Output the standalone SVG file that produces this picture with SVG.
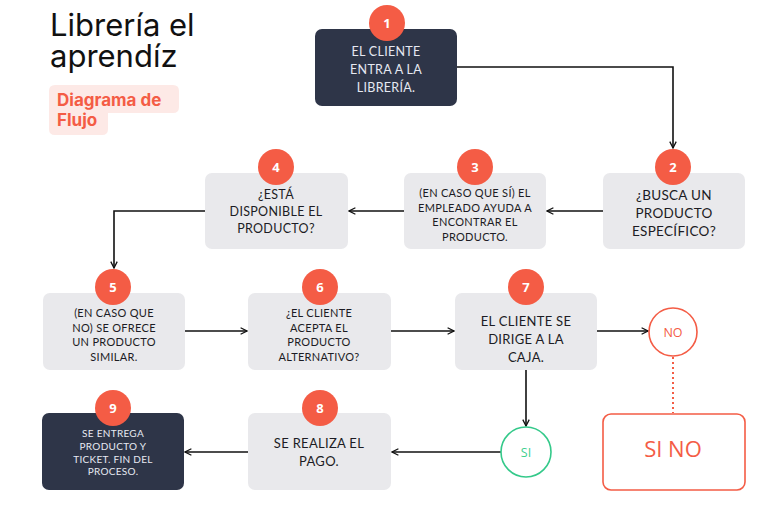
<svg xmlns="http://www.w3.org/2000/svg" width="780" height="522" viewBox="0 0 780 522">
<defs>
<marker id="arr" viewBox="0 0 10 10" refX="9" refY="5" markerWidth="8" markerHeight="8" markerUnits="userSpaceOnUse" orient="auto">
<path d="M1,1 L9,5 L1,9" fill="none" stroke="#111" stroke-width="1.6"/>
</marker>
<style>
.box{fill:#e9e9ec}
.dark{fill:#2e3548}
.badge{fill:#f45c45}
.bn{font-family:"Open Sans","Liberation Sans",sans-serif;font-weight:700;font-size:13px;fill:#fff;text-anchor:middle}
.t{font-family:"Lato","Open Sans","Liberation Sans",sans-serif;fill:#1c1c24;text-anchor:middle;letter-spacing:0.3px}
.tl{font-family:"Lato","Open Sans","Liberation Sans",sans-serif;fill:#e6e9f2;text-anchor:middle;letter-spacing:0.3px}
.c{fill:none;stroke:#111;stroke-width:1.6}
</style>
</defs>
<rect width="780" height="522" fill="#fff"/>
<g id="title">
<text x="50" y="36" font-family="Inter,'Liberation Sans',sans-serif" font-size="31" fill="#111">Librería el</text>
<text x="50" y="67" font-family="Inter,'Liberation Sans',sans-serif" font-size="31" fill="#111">aprendíz</text>
<path d="M55,85 H173 Q179,85 179,91 V107 Q179,113 173,113 H108 V129 Q108,135 102,135 H55 Q49,135 49,129 V91 Q49,85 55,85 Z" fill="#fde9e6"/>
<text x="57" y="106" font-family="Inter,'Liberation Sans',sans-serif" font-size="17" font-weight="700" fill="#f45c45">Diagrama de</text>
<text x="57" y="126" font-family="Inter,'Liberation Sans',sans-serif" font-size="17" font-weight="700" fill="#f45c45">Flujo</text>
</g>
<g id="connectors">
<path class="c" d="M457,67 H673 V148" marker-end="url(#arr)"/>
<path class="c" d="M603,211 H547" marker-end="url(#arr)"/>
<path class="c" d="M404,211 H349" marker-end="url(#arr)"/>
<path class="c" d="M205,211 H114 V268" marker-end="url(#arr)"/>
<path class="c" d="M185,331 H247" marker-end="url(#arr)"/>
<path class="c" d="M391,331 H454" marker-end="url(#arr)"/>
<path class="c" d="M597,331 H648" marker-end="url(#arr)"/>
<path class="c" d="M526,370 V426" marker-end="url(#arr)"/>
<path class="c" d="M501,452 H392" marker-end="url(#arr)"/>
<path class="c" d="M248,452 H185" marker-end="url(#arr)"/>
<path d="M673,357 V413" fill="none" stroke="#f45c45" stroke-width="2" stroke-dasharray="2,3"/>
</g>
<g id="n1">
<rect class="dark" x="315" y="29" width="142" height="77" rx="7"/>
<circle class="badge" cx="387" cy="23" r="18"/><text class="bn" x="387" y="28">1</text>
<text class="tl" font-size="12.5" x="386" y="56">EL CLIENTE</text>
<text class="tl" font-size="12.5" x="386" y="74">ENTRA A LA</text>
<text class="tl" font-size="12.5" x="386" y="92">LIBRERÍA.</text>
</g>
<g id="n2">
<rect class="box" x="603" y="173" width="142" height="76" rx="7"/>
<circle class="badge" cx="673" cy="167" r="18"/><text class="bn" x="673" y="172">2</text>
<text class="t" font-size="13.5" x="674" y="200">¿BUSCA UN</text>
<text class="t" font-size="13.5" x="674" y="218">PRODUCTO</text>
<text class="t" font-size="13.5" x="674" y="236">ESPECÍFICO?</text>
</g>
<g id="n3">
<rect class="box" x="404" y="173" width="142" height="76" rx="7"/>
<circle class="badge" cx="475" cy="167" r="18"/><text class="bn" x="475" y="172">3</text>
<text class="t" font-size="11" x="475" y="197">(EN CASO QUE SÍ) EL</text>
<text class="t" font-size="11" x="475" y="212">EMPLEADO AYUDA A</text>
<text class="t" font-size="11" x="475" y="226">ENCONTRAR EL</text>
<text class="t" font-size="11" x="475" y="241">PRODUCTO.</text>
</g>
<g id="n4">
<rect class="box" x="205" y="173" width="143" height="76" rx="7"/>
<circle class="badge" cx="276" cy="167" r="18"/><text class="bn" x="276" y="172">4</text>
<text class="t" font-size="12.5" x="276" y="199">¿ESTÁ</text>
<text class="t" font-size="12.5" x="276" y="216">DISPONIBLE EL</text>
<text class="t" font-size="12.5" x="276" y="233">PRODUCTO?</text>
</g>
<g id="n5">
<rect class="box" x="43" y="293" width="142" height="77" rx="7"/>
<circle class="badge" cx="113" cy="287" r="18"/><text class="bn" x="113" y="292">5</text>
<text class="t" font-size="11" x="114" y="317">(EN CASO QUE</text>
<text class="t" font-size="11" x="114" y="332">NO) SE OFRECE</text>
<text class="t" font-size="11" x="114" y="346">UN PRODUCTO</text>
<text class="t" font-size="11" x="114" y="361">SIMILAR.</text>
</g>
<g id="n6">
<rect class="box" x="248" y="293" width="143" height="77" rx="7"/>
<circle class="badge" cx="320" cy="287" r="18"/><text class="bn" x="320" y="292">6</text>
<text class="t" font-size="11" x="319" y="317">¿EL CLIENTE</text>
<text class="t" font-size="11" x="319" y="332">ACEPTA EL</text>
<text class="t" font-size="11" x="319" y="346">PRODUCTO</text>
<text class="t" font-size="11" x="319" y="361">ALTERNATIVO?</text>
</g>
<g id="n7">
<rect class="box" x="455" y="293" width="142" height="77" rx="7"/>
<circle class="badge" cx="526" cy="287" r="18"/><text class="bn" x="526" y="292">7</text>
<text class="t" font-size="13" x="526" y="326">EL CLIENTE SE</text>
<text class="t" font-size="13" x="526" y="344">DIRIGE A LA</text>
<text class="t" font-size="13" x="526" y="362">CAJA.</text>
</g>
<g id="no">
<circle cx="673" cy="332" r="24" fill="#fff" stroke="#f45c45" stroke-width="1.6"/>
<text x="673" y="336.5" font-family="'Open Sans','Liberation Sans',sans-serif" font-size="12.5" fill="#f45c45" text-anchor="middle">NO</text>
</g>
<g id="sino">
<rect x="603" y="414" width="142" height="76" rx="8" fill="#fff" stroke="#f45c45" stroke-width="1.6"/>
<text x="673" y="457" font-family="'Open Sans','Liberation Sans',sans-serif" font-size="22" fill="#f45c45" text-anchor="middle">SI NO</text>
</g>
<g id="si">
<circle cx="526" cy="452" r="25" fill="#fff" stroke="#34c98a" stroke-width="1.6"/>
<text x="526" y="456.5" font-family="'Open Sans','Liberation Sans',sans-serif" font-size="12.5" fill="#3ecf8e" text-anchor="middle">SI</text>
</g>
<g id="n8">
<rect class="box" x="248" y="413" width="143" height="77" rx="7"/>
<circle class="badge" cx="320" cy="408" r="18"/><text class="bn" x="320" y="413">8</text>
<text class="t" font-size="13" x="319" y="448">SE REALIZA EL</text>
<text class="t" font-size="13" x="319" y="466">PAGO.</text>
</g>
<g id="n9">
<rect class="dark" x="42" y="413" width="142" height="77" rx="7"/>
<circle class="badge" cx="113" cy="408" r="18"/><text class="bn" x="113" y="413">9</text>
<text class="tl" font-size="10" x="113" y="437">SE ENTREGA</text>
<text class="tl" font-size="10" x="113" y="450">PRODUCTO Y</text>
<text class="tl" font-size="10" x="113" y="463">TICKET. FIN DEL</text>
<text class="tl" font-size="10" x="113" y="475">PROCESO.</text>
</g>
</svg>
